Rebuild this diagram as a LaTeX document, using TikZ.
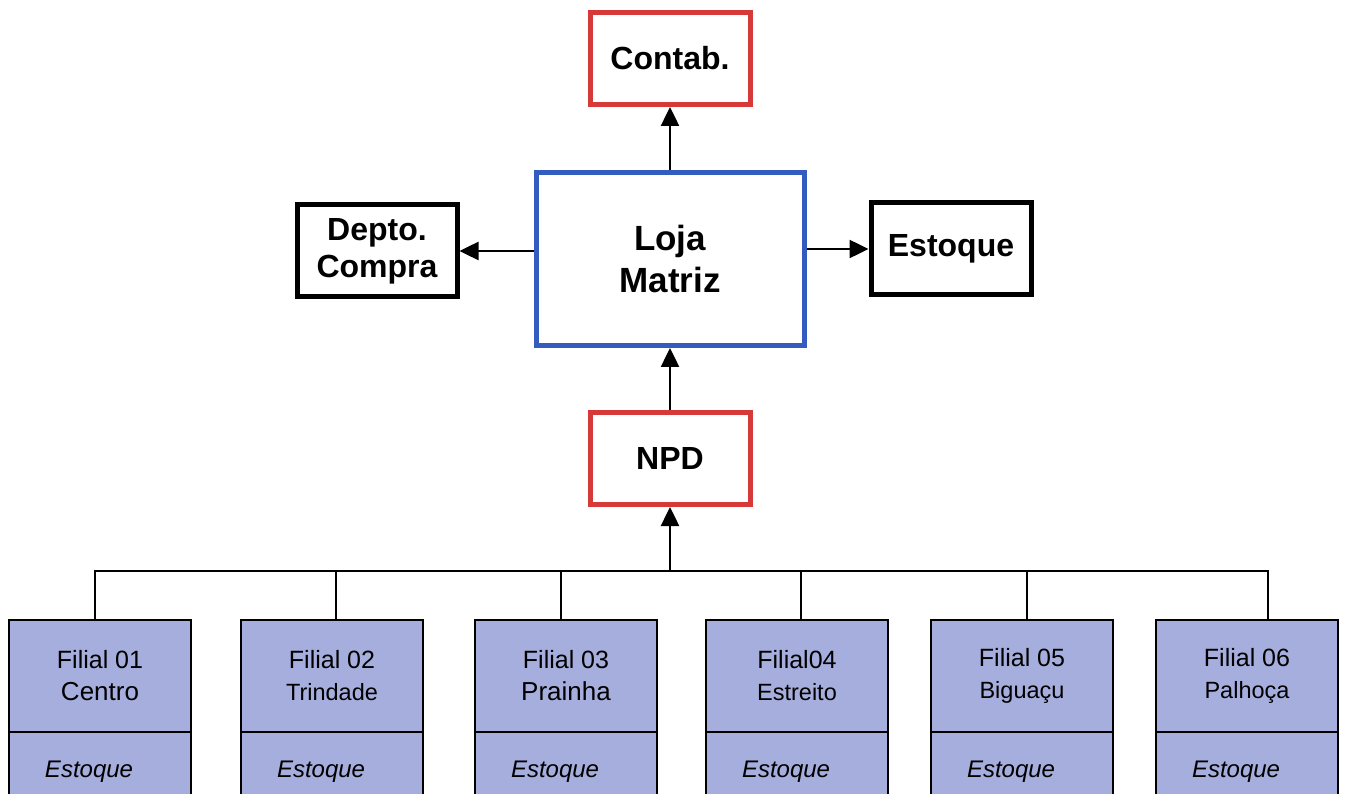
\documentclass[tikz,border=0pt]{standalone}
\usepackage{fontspec}
\setmainfont{Liberation Sans}
\usetikzlibrary{positioning,arrows.meta}
\definecolor{vermelho}{RGB}{214,58,56}
\definecolor{azul}{RGB}{52,92,190}
\definecolor{lilas}{RGB}{166,174,221}
\newcommand{\bairro}[1]{{\fontsize{23.5}{32}\selectfont #1}}

\begin{document}
\begin{tikzpicture}[x=1pt, y=-1pt, line width=2.5pt,
  caixa/.style = {draw, line width=5pt, align=center, font=\fontsize{32}{37}\selectfont\bfseries, minimum width=160pt, minimum height=92pt},
  filial/.style = {draw, fill=lilas, line width=2pt, outer sep=0pt, align=center, minimum width=182pt, minimum height=112pt, font=\fontsize{25}{32}\selectfont},
  estq/.style = {draw, fill=lilas, line width=2pt, outer sep=0pt, minimum width=182pt, minimum height=80pt, text width=110pt, inner xsep=36pt, align=left, font=\fontsize{24}{28}\selectfont\itshape},
  seta/.style = {-{Triangle[length=19pt, width=18pt]}}]
\useasboundingbox (0,0) rectangle (1345,794);
\clip (0,0) rectangle (1345,794);
\node[caixa, draw=azul, minimum width=268pt, minimum height=173pt, font=\fontsize{35}{42}\selectfont\bfseries] (loja) at (670,259) {Loja\\Matriz};
\node[caixa, draw=vermelho, above=63pt of loja] (contab) {Contab.};
\node[caixa, draw=black, left=74pt of loja, yshift=8pt] (compra) {Depto.\\Compra};
\node[caixa, draw=black, right=62pt of loja, yshift=10pt] (estoque) {Estoque};
\node[caixa, draw=vermelho, below=62pt of loja] (npd) {NPD};
\coordinate[below=64pt of npd] (barra);
\node[filial] (f1) at (100,676) {Filial 01\\{\fontsize{26}{32}\selectfont Centro}};
\node[filial] (f2) at (332,676) {Filial 02\\\bairro{Trindade}};
\node[filial] (f3) at (566,676) {Filial 03\\{\fontsize{26}{32}\selectfont Prainha}};
\node[filial] (f4) at (797,676) {Filial04\\\bairro{Estreito}};
\node[filial] (f5) at (1022,676) {Filial 05\\\bairro{Biguaçu}};
\node[filial] (f6) at (1247,676) {Filial 06\\\bairro{Palhoça}};
\node[estq, below=0pt of f1] (e1) {Estoque};
\node[estq, below=0pt of f2] (e2) {Estoque};
\node[estq, below=0pt of f3] (e3) {Estoque};
\node[estq, below=0pt of f4] (e4) {Estoque};
\node[estq, below=0pt of f5] (e5) {Estoque};
\node[estq, below=0pt of f6] (e6) {Estoque};
\draw[seta] (loja) -- (contab);
\draw[seta] (loja.west |- compra) -- (compra);
\draw[seta] (loja.east |- estoque) -- (estoque);
\draw[seta] (npd) -- (loja);
\draw[seta] (barra) -- (npd);
\draw[line width=2pt] ([xshift=-5pt]f1.north) |- (barra);
\draw[line width=2pt] ([xshift=4pt]f2.north) |- (barra);
\draw[line width=2pt] ([xshift=-5pt]f3.north) |- (barra);
\draw[line width=2pt] ([xshift=4pt]f4.north) |- (barra);
\draw[line width=2pt] ([xshift=5pt]f5.north) |- (barra);
\draw[line width=2pt] ([xshift=21pt]f6.north) |- (barra);
\end{tikzpicture}
\end{document}
